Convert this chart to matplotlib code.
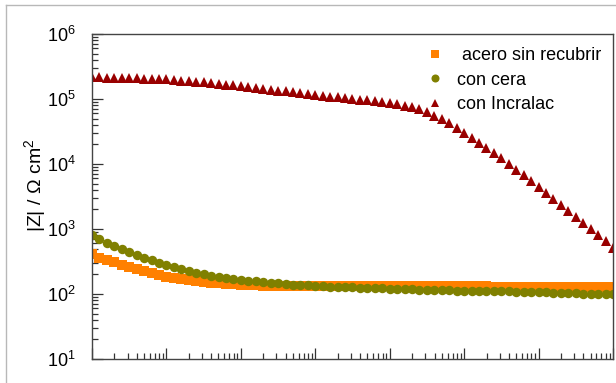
import matplotlib
matplotlib.use("Agg")
import matplotlib.pyplot as plt
from matplotlib.ticker import LogLocator, NullFormatter
from matplotlib.lines import Line2D

plt.rcParams['font.family'] = ['Liberation Sans', 'DejaVu Sans']
plt.rcParams['mathtext.fontset'] = 'custom'
plt.rcParams['mathtext.rm'] = 'Liberation Sans'
plt.rcParams['mathtext.it'] = 'Liberation Sans:italic'

# Frequency sweep (Hz), 10 points per decade
freq = [0.01, 0.0126, 0.0158, 0.0200, 0.0251, 0.0316, 0.0398, 0.0501, 0.0631, 0.0794,
        0.1, 0.126, 0.158, 0.200, 0.251, 0.316, 0.398, 0.501, 0.631, 0.794,
        1.0, 1.26, 1.58, 2.00, 2.51, 3.16, 3.98, 5.01, 6.31, 7.94,
        10.0, 12.6, 15.8, 20.0, 25.1, 31.6, 39.8, 50.1, 63.1, 79.4,
        100, 126, 158, 200, 251, 316, 398, 501, 631, 794,
        1000, 1259, 1585, 1995, 2512, 3162, 3981, 5012, 6310, 7943,
        10000, 12589, 15849, 19953, 25119, 31623, 39811, 50119, 63096, 79433,
        100000]

# |Z| in ohm cm2
z_acero = [408, 361, 333, 308, 282, 260, 240, 223, 208, 196,
           185, 176, 168, 163, 157, 153, 149, 146, 144, 141,
           139, 137, 136, 134, 134, 134, 133, 133, 133, 133,
           133, 133, 133, 133, 133, 132, 132, 132, 132, 132,
           132, 132, 132, 132, 132, 131, 131, 131, 131, 131,
           131, 131, 131, 131, 130, 130, 130, 130, 130, 130,
           130, 130, 130, 129, 129, 129, 129, 129, 129, 129, 129]

z_cera = [809, 701, 615, 547, 488, 439, 398, 361, 330, 303,
          279, 258, 240, 226, 213, 201, 191, 185, 176, 170,
          164, 160, 157, 153, 150, 146, 143, 140, 138, 136,
          134, 132, 130, 129, 127, 126, 125, 124, 123, 122,
          121, 120, 119, 118, 117, 116, 116, 115, 114, 113,
          113, 112, 112, 111, 111, 110, 110, 109, 108, 107,
          107, 106, 105, 104, 103, 102, 101, 100, 99.8, 99.3, 98.9]

z_incralac = [2.18e5, 2.16e5, 2.14e5, 2.12e5, 2.10e5, 2.09e5, 2.07e5, 2.05e5, 2.03e5, 2.01e5,
              2.00e5, 1.96e5, 1.92e5, 1.88e5, 1.85e5, 1.80e5, 1.76e5, 1.72e5, 1.67e5, 1.63e5,
              1.58e5, 1.54e5, 1.49e5, 1.44e5, 1.40e5, 1.35e5, 1.31e5, 1.26e5, 1.22e5, 1.18e5,
              1.14e5, 1.11e5, 1.08e5, 1.06e5, 1.03e5, 1.00e5, 9.77e4, 9.51e4, 9.25e4, 8.97e4,
              8.71e4, 8.36e4, 7.94e4, 7.45e4, 6.92e4, 6.24e4, 5.56e4, 4.90e4, 4.27e4, 3.63e4,
              3.05e4, 2.54e4, 2.11e4, 1.76e4, 1.46e4, 1.22e4, 1.00e4, 8.22e3, 6.76e3, 5.50e3,
              4.47e3, 3.61e3, 2.92e3, 2.37e3, 1.91e3, 1.55e3, 1.25e3, 1.00e3, 802, 643, 513]

labels = [' acero sin recubrir', 'con cera', 'con Incralac']
colors = ['#ff8000', '#808000', '#990000']
markers = ['s', 'o', '^']

W, H = 616, 383
fig = plt.figure(figsize=(W / 100, H / 100), dpi=100)
ax = fig.add_axes([92 / W, 24 / H, 521 / W, 325 / H])

for z, lab, c, m in zip([z_acero, z_cera, z_incralac], labels, colors, markers):
    ax.plot(freq, z, linestyle='none', marker=m, ms=6.8, color=c,
            markeredgewidth=0, label=lab)

ax.set_xscale('log')
ax.set_yscale('log')
ax.set_xlim(0.01, 1e5)
ax.set_ylim(10, 1e6)

ax.xaxis.set_major_locator(LogLocator(base=10, numticks=20))
ax.xaxis.set_minor_locator(LogLocator(base=10, subs=range(2, 10), numticks=100))
ax.yaxis.set_major_locator(LogLocator(base=10, numticks=20))
ax.yaxis.set_minor_locator(LogLocator(base=10, subs=range(2, 10), numticks=100))
ax.xaxis.set_minor_formatter(NullFormatter())
ax.yaxis.set_minor_formatter(NullFormatter())

ax.tick_params(which='both', direction='in', top=False, right=False,
               color='#333333', width=0.9)
ax.tick_params(which='major', length=8)
ax.tick_params(which='minor', length=4)
ax.tick_params(axis='x', labelbottom=False)
ax.tick_params(axis='y', labelsize=13, pad=12)

for s in ax.spines.values():
    s.set_color('#444444')
    s.set_linewidth(1.0)

ax.set_ylabel('|Z| / Ω cm$^{2}$', fontsize=14)
ax.yaxis.set_label_coords(-0.084, 0.535)

ax.legend(loc='upper left', bbox_to_anchor=(426 / W, 1 - 47 / H),
          bbox_transform=fig.transFigure, frameon=False, fontsize=13,
          handlelength=1.0, handletextpad=0.72, labelspacing=0.42,
          borderpad=0, borderaxespad=0, markerscale=0.85)

# light frame around the figure
fig.add_artist(Line2D([6 / W, 6 / W], [0, 1 - 5 / H], transform=fig.transFigure,
                      color='#b8b8b8', lw=1.0))
fig.add_artist(Line2D([6 / W, 1], [1 - 5 / H, 1 - 5 / H], transform=fig.transFigure,
                      color='#b8b8b8', lw=1.0))

fig.savefig('out.png', dpi=100)
